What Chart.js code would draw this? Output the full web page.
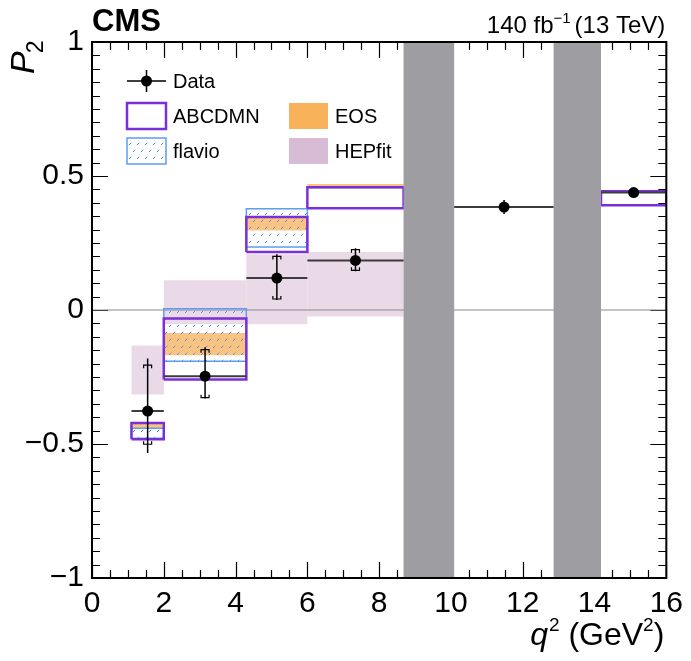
<!DOCTYPE html>
<html><head><meta charset="utf-8">
<script src="https://cdn.jsdelivr.net/npm/chart.js@4.4.1/dist/chart.umd.min.js"></script>
<style>html,body{margin:0;padding:0;background:#fff;}canvas{display:block;}</style>
</head><body>
<canvas id="c" width="691" height="661"></canvas>
<script>
// ---- data ----
const binLo = [1.1, 2.0, 4.3, 6.0, 10.09, 14.18];
const binHi = [2.0, 4.3, 6.0, 8.68, 12.86, 16.0];
const pointX = [1.55, 3.15, 5.15, 7.34, 11.48, 15.09];
const dataP2 = [-0.377, -0.247, 0.119, 0.185, 0.384, 0.438];
const statUp = [0.171, 0.099, 0.081, 0.040, 0.012, 0.006];
const statDn = [0.124, 0.080, 0.078, 0.037, 0.012, 0.006];
const totUp  = [0.196, 0.108, 0.089, 0.045, 0.026, 0.008];
const totDn  = [0.157, 0.083, 0.082, 0.040, 0.026, 0.008];

const abcdmnLo = [-0.482, -0.259, 0.216, 0.380, null, 0.391];
const abcdmnHi = [-0.422, -0.032, 0.347, 0.458, null, 0.443];
const eosLo    = [-0.443, -0.169, 0.297, 0.452, null, null];
const eosHi    = [-0.424, -0.086, 0.345, 0.470, null, null];
const flavioLo = [-0.479, -0.191, 0.235, null, null, null];
const flavioHi = [-0.441, 0.005, 0.378, null, null, null];
const hepfitLo = [-0.315, -0.053, -0.053, -0.024, null, null];
const hepfitHi = [-0.132, 0.111, 0.208, 0.216, null, null];

const vetoLo = [8.68, 12.86];
const vetoHi = [10.09, 14.18];

const xTickValues = [0, 2, 4, 6, 8, 10, 12, 14, 16];
const xTickLabels = ['0', '2', '4', '6', '8', '10', '12', '14', '16'];
const yTickValues = [-1, -0.5, 0, 0.5, 1];
const yTickLabels = ['\u22121', '\u22120.5', '0', '0.5', '1'];

const legendNames = ['Data', 'ABCDMN', 'flavio', 'EOS', 'HEPfit'];

// ---- styles ----
const FONT = '"Liberation Sans", Arial, Helvetica, sans-serif';
const C_ABCDMN = '#7b2fd8';
const C_EOS_FILL = 'rgba(247,172,80,0.72)';
const C_EOS_LEG = '#f8b35a';
const C_FLAVIO = '#5f9df2';
const C_HEP_FILL = 'rgba(216,188,214,0.55)';
const C_HEP_LEG = '#d8bcd5';
const C_VETO = '#9d9da2';

const canvas = document.getElementById('c');
const ctx0 = canvas.getContext('2d');
function makeHatch() {
  const t = document.createElement('canvas');
  t.width = 8; t.height = 14;
  const g = t.getContext('2d');
  g.strokeStyle = '#4f8ef0';
  g.lineWidth = 1;
  g.beginPath();
  g.moveTo(1, 5); g.lineTo(3.2, 2.8);
  g.moveTo(5, 12); g.lineTo(7.2, 9.8);
  g.stroke();
  return ctx0.createPattern(t, 'repeat');
}
const HATCH = makeHatch();

function boxPts(x0, x1, y0, y1) {
  return [{x:x0,y:y0},{x:x0,y:y1},{x:x1,y:y1},{x:x1,y:y0},{x:x0,y:y0}];
}

const datasets = [];
function addBoxes(lo, hi, x0s, x1s, style, order) {
  for (let i = 0; i < lo.length; i++) {
    if (lo[i] === null || lo[i] === undefined) continue;
    datasets.push({
      type: 'line',
      data: boxPts(x0s[i], x1s[i], lo[i], hi[i]),
      fill: style.fill ? 'shape' : false,
      backgroundColor: style.fill || 'rgba(0,0,0,0)',
      borderColor: style.border || 'rgba(0,0,0,0)',
      borderWidth: style.bw || 0,
      pointRadius: 0, tension: 0, order: order,
      borderJoinStyle: 'miter'
    });
  }
}
addBoxes(hepfitLo, hepfitHi, binLo, binHi, {fill: C_HEP_FILL}, 20);
datasets.push({type:'line', data:[{x:0,y:0},{x:16,y:0}], borderColor:'#8a8a8a', borderWidth:1, pointRadius:0, fill:false, order:19});
addBoxes(eosLo, eosHi, binLo, binHi, {fill: C_EOS_FILL}, 18);
addBoxes(flavioLo, flavioHi, binLo, binHi, {fill: HATCH, border: C_FLAVIO, bw: 1.5}, 17);
addBoxes(abcdmnLo, abcdmnHi, binLo, binHi, {border: C_ABCDMN, bw: 2.5}, 16);
addBoxes([-1, -1], [1, 1], vetoLo, vetoHi, {fill: C_VETO}, 15);

// data horizontal bin bars
const hbar = [];
for (let i = 0; i < dataP2.length; i++) {
  hbar.push({x: binLo[i], y: dataP2[i]}, {x: binHi[i], y: dataP2[i]}, {x: binHi[i], y: null});
}
datasets.push({type:'line', data:hbar, borderColor:'#3c3c3c', borderWidth:2, pointRadius:0, fill:false, spanGaps:false, order:4});
// total error bars
const vbar = [];
for (let i = 0; i < dataP2.length; i++) {
  vbar.push({x: pointX[i], y: dataP2[i] - totDn[i]}, {x: pointX[i], y: dataP2[i] + totUp[i]}, {x: pointX[i], y: null});
}
datasets.push({type:'line', data:vbar, borderColor:'#000', borderWidth:1.5, pointRadius:0, fill:false, spanGaps:false, order:3});
// data points
datasets.push({type:'scatter', data: pointX.map((x, i) => ({x: x, y: dataP2[i]})), showLine:false,
  pointRadius:5.5, pointBackgroundColor:'#000', pointBorderWidth:0, order:1});

// ---- plugins ----
const ticksPlugin = {
  id: 'rootTicks',
  beforeDatasetsDraw(chart) {
    const c = chart.ctx, a = chart.chartArea, sx = chart.scales.x, sy = chart.scales.y;
    c.save();
    c.strokeStyle = '#000'; c.lineWidth = 1.2;
    c.beginPath();
    for (let k = 0; k <= 32; k++) {
      const px = Math.round(sx.getPixelForValue(k * 0.5)) + 0.5;
      const len = (k % 4 === 0) ? 16 : 8;
      c.moveTo(px, a.bottom); c.lineTo(px, a.bottom - len);
      c.moveTo(px, a.top); c.lineTo(px, a.top + len);
    }
    for (let k = 0; k <= 40; k++) {
      const py = Math.round(sy.getPixelForValue(-1 + k * 0.05)) + 0.5;
      const len = (k % 10 === 0) ? 16 : 8;
      c.moveTo(a.left, py); c.lineTo(a.left + len, py);
      c.moveTo(a.right, py); c.lineTo(a.right - len, py);
    }
    c.stroke();
    c.restore();
  },
  afterDatasetsDraw(chart) {
    const c = chart.ctx, a = chart.chartArea, sx = chart.scales.x, sy = chart.scales.y;
    c.save();
    // stat-error caps
    c.strokeStyle = '#000'; c.lineWidth = 1.2;
    for (let i = 0; i < dataP2.length; i++) {
      if (statUp[i] < 0.02) continue;
      const px = sx.getPixelForValue(pointX[i]);
      const yt = sy.getPixelForValue(dataP2[i] + statUp[i]);
      const yb = sy.getPixelForValue(dataP2[i] - statDn[i]);
      c.beginPath();
      c.moveTo(px - 4, yt + 3); c.lineTo(px - 4, yt); c.lineTo(px + 4, yt); c.lineTo(px + 4, yt + 3);
      c.moveTo(px - 4, yb - 3); c.lineTo(px - 4, yb); c.lineTo(px + 4, yb); c.lineTo(px + 4, yb - 3);
      c.stroke();
    }
    // frame
    c.strokeStyle = '#000'; c.lineWidth = 2;
    c.strokeRect(a.left, a.top, a.right - a.left, a.bottom - a.top);
    c.restore();
  }
};

function drawParts(c, parts, xRight) {
  let total = 0;
  parts.forEach(p => { c.font = p.font; p.w = c.measureText(p.t).width; total += p.w + (p.gap || 0); });
  let x = xRight - total;
  parts.forEach(p => { c.font = p.font; c.fillText(p.t, x, p.y); x += p.w + (p.gap || 0); });
}

const textPlugin = {
  id: 'texts',
  afterDraw(chart) {
    const c = chart.ctx, a = chart.chartArea;
    c.save();
    c.fillStyle = '#000'; c.textBaseline = 'alphabetic'; c.textAlign = 'left';
    // CMS
    c.font = 'bold 31px ' + FONT;
    c.fillText('CMS', a.left, 31);
    // lumi
    drawParts(c, [
      {t: '140 fb', font: '24px ' + FONT, y: 33},
      {t: '\u22121', font: '15px ' + FONT, y: 23, gap: 4},
      {t: '(13 TeV)', font: '24px ' + FONT, y: 33}
    ], a.right - 1);
    // x title
    drawParts(c, [
      {t: 'q', font: 'italic 32px ' + FONT, y: 645, gap: 1},
      {t: '2', font: '19px ' + FONT, y: 631},
      {t: ' (GeV', font: '32px ' + FONT, y: 645},
      {t: '2', font: '19px ' + FONT, y: 631},
      {t: ')', font: '32px ' + FONT, y: 645}
    ], a.right - 2);
    // y title
    c.save();
    c.translate(34, 74);
    c.rotate(-Math.PI / 2);
    c.font = 'italic 34px ' + FONT;
    c.fillText('P', 0, 0);
    const pw = c.measureText('P').width;
    c.font = '23px ' + FONT;
    c.fillText('2', pw - 2, 9);
    c.restore();

    // legend
    c.font = '20px ' + FONT;
    c.textBaseline = 'middle';
    // Data
    c.strokeStyle = '#000'; c.lineWidth = 1.5;
    c.beginPath();
    c.moveTo(127, 81); c.lineTo(166, 81);
    c.moveTo(146.5, 70); c.lineTo(146.5, 92);
    c.stroke();
    c.beginPath(); c.arc(146.5, 81, 5.5, 0, Math.PI * 2); c.fill();
    c.fillText(legendNames[0], 173, 82);
    // ABCDMN
    c.fillStyle = '#fff'; c.fillRect(127, 103, 39, 26);
    c.strokeStyle = C_ABCDMN; c.lineWidth = 2.5; c.strokeRect(127, 103, 39, 26);
    c.fillStyle = '#000'; c.fillText(legendNames[1], 173, 117);
    // flavio
    c.fillStyle = HATCH; c.fillRect(127, 138, 39, 26);
    c.strokeStyle = C_FLAVIO; c.lineWidth = 1.5; c.strokeRect(127, 138, 39, 26);
    c.fillStyle = '#000'; c.fillText(legendNames[2], 173, 152);
    // EOS
    c.fillStyle = C_EOS_LEG; c.fillRect(289, 103, 39, 26);
    c.fillStyle = '#000'; c.fillText(legendNames[3], 335, 117);
    // HEPfit
    c.fillStyle = C_HEP_LEG; c.fillRect(289, 138, 39, 26);
    c.fillStyle = '#000'; c.fillText(legendNames[4], 335, 152);
    c.restore();
  }
};

function lookup(vals, labels, v) {
  for (let i = 0; i < vals.length; i++) if (Math.abs(vals[i] - v) < 1e-6) return labels[i];
  return '';
}

new Chart(canvas, {
  type: 'line',
  data: { datasets: datasets },
  options: {
    responsive: false,
    devicePixelRatio: 1,
    animation: false,
    events: [],
    layout: { padding: { left: 0, top: 42, right: 20, bottom: 0 } },
    plugins: { legend: { display: false }, tooltip: { enabled: false } },
    scales: {
      x: {
        type: 'linear', min: 0, max: 16,
        grid: { display: false, drawTicks: false }, border: { display: false },
        ticks: { stepSize: 2, autoSkip: false, maxRotation: 0, color: '#000', padding: 8,
          font: { family: FONT, size: 30 },
          callback: v => lookup(xTickValues, xTickLabels, v) },
        afterFit: s => { s.height = 83; }
      },
      y: {
        type: 'linear', min: -1, max: 1,
        grid: { display: false, drawTicks: false }, border: { display: false },
        ticks: { stepSize: 0.5, autoSkip: false, color: '#000', padding: 8,
          font: { family: FONT, size: 30 },
          callback: v => lookup(yTickValues, yTickLabels, v) },
        afterFit: s => { s.width = 92; }
      }
    }
  },
  plugins: [ticksPlugin, textPlugin]
});
</script>
</body></html>
